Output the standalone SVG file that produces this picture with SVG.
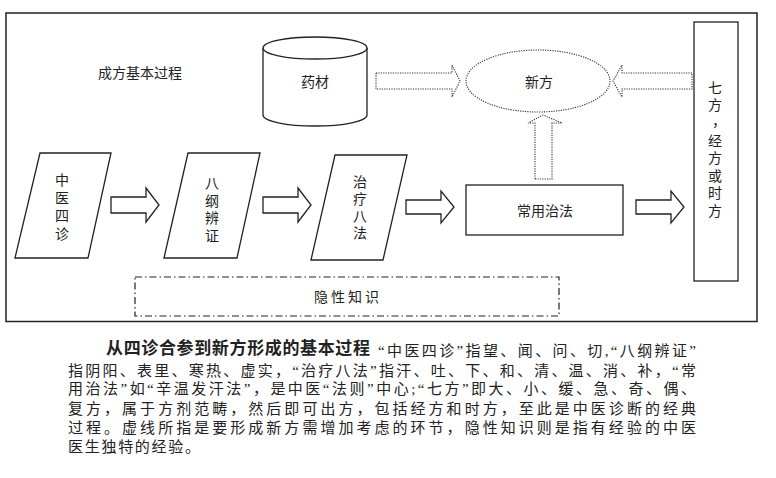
<svg xmlns="http://www.w3.org/2000/svg" width="776" height="478" viewBox="0 0 776 478">
<style>
.s{fill:#fff;stroke:#222;stroke-width:1.3}
.d{fill:none;stroke:#333;stroke-width:1.1;stroke-dasharray:1.2 1.2}
.t{font-family:"Noto Sans CJK SC","Noto Sans",sans-serif;font-size:14px;fill:#222;text-anchor:middle}
.v{font-family:"Noto Sans CJK SC","Noto Sans",sans-serif;font-size:14px;fill:#222;text-anchor:middle;writing-mode:vertical-rl}
.c{font-family:"Liberation Serif","Noto Sans CJK SC",serif;font-size:15px;fill:#222}
.b{font-family:"Noto Sans CJK SC",sans-serif;font-size:17px;font-weight:bold;fill:#222}
</style>
<rect width="776" height="478" fill="#fff"/>
<g id="frame"><rect x="6" y="13" width="751" height="308.5" fill="none" stroke="#222" stroke-width="1.5"/></g>
<g id="title"><text class="t" x="140" y="78">成方基本过程</text></g>
<g id="yaocai">
<path class="s" d="M263 48 V115 A52 11 0 0 0 367 115 V48"/>
<ellipse class="s" cx="315" cy="48" rx="52" ry="11"/>
<text class="t" x="315" y="87">药材</text>
</g>
<g id="xinfang">
<ellipse class="d" cx="538" cy="81" rx="72" ry="31"/>
<text class="t" x="539" y="87">新方</text>
</g>
<g id="qifang">
<rect class="s" x="694" y="22" width="44" height="259"/>
<text class="v" x="715" y="98" style="letter-spacing:3px">七方</text>
<text class="t" x="719" y="126">，</text>
<text class="v" x="715" y="177" style="letter-spacing:3.5px">经方或时方</text>
</g>
<g id="sizhen">
<polygon class="s" points="40,153 111,153 88,258 15,258"/>
<text class="v" x="62" y="209" style="letter-spacing:4px">中医四诊</text>
</g>
<g id="bagang">
<polygon class="s" points="188,153 260,153 237,258 164,258"/>
<text class="v" x="212" y="211" style="letter-spacing:3.5px">八纲辨证</text>
</g>
<g id="zhiliao">
<polygon class="s" points="335,155 407,155 383,260 311,260"/>
<text class="v" x="360" y="209" style="letter-spacing:3px">治疗八法</text>
</g>
<g id="changyong">
<rect class="s" x="466" y="185" width="157" height="50"/>
<text class="t" x="545" y="216">常用治法</text>
</g>
<g id="yinxing">
<rect x="135" y="277" width="424" height="39" fill="none" stroke="#222" stroke-width="1.2" stroke-dasharray="7 3 1.5 3"/>
<text class="t" x="348" y="302" style="letter-spacing:3px">隐性知识</text>
</g>
<g id="connectors">
<polygon class="s" points="111,197 146,197 146,188 159,205 146,222 146,213 111,213"/>
<polygon class="s" points="263,197 298,197 298,188 311,205 298,222 298,213 263,213"/>
<polygon class="s" points="406,200 441,200 441,191 454,207 441,223 441,214 406,214"/>
<polygon class="s" points="636,200 671,200 671,191 684,207 671,223 671,214 636,214"/>
<polygon class="d" points="376,73 452,73 452,65 460,81 452,97 452,89 376,89"/>
<polygon class="d" points="692,73 622,73 622,65 613,81 622,97 622,89 692,89"/>
<polygon class="d" points="535,179 535,123 528,123 543,115 562,123 552,123 552,179"/>
</g>
<g id="caption">
<text class="b" x="106" y="354" textLength="264" lengthAdjust="spacing">从四诊合参到新方形成的基本过程</text>
<text class="c" x="378" y="356" textLength="318" lengthAdjust="spacing">“中医四诊”指望、闻、问、切,“八纲辨证”</text>
<text class="c" x="68" y="376" textLength="628" lengthAdjust="spacing">指阴阳、表里、寒热、虚实，“治疗八法”指汗、吐、下、和、清、温、消、补，“常</text>
<text class="c" x="68" y="394" textLength="628" lengthAdjust="spacing">用治法”如“辛温发汗法”，是中医“法则”中心;“七方”即大、小、缓、急、奇、偶、</text>
<text class="c" x="68" y="414" textLength="628" lengthAdjust="spacing">复方，属于方剂范畴，然后即可出方，包括经方和时方，至此是中医诊断的经典</text>
<text class="c" x="68" y="433" textLength="628" lengthAdjust="spacing">过程。虚线所指是要形成新方需增加考虑的环节，隐性知识则是指有经验的中医</text>
<text class="c" x="68" y="452" textLength="132" lengthAdjust="spacing">医生独特的经验。</text>
</g>
</svg>
